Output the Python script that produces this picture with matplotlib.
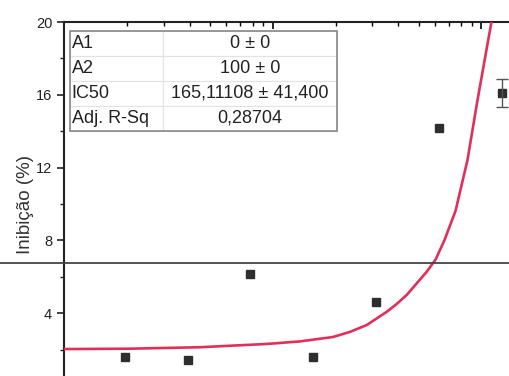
import matplotlib
matplotlib.use('Agg')
import matplotlib.pyplot as plt
from matplotlib.patches import Rectangle
from matplotlib.lines import Line2D

plt.rcParams['font.family'] = ['Liberation Sans', 'DejaVu Sans']

# measured points (concentration, % inhibition)
conc = [1.953, 3.906, 7.8125, 15.625, 31.25, 62.5, 125]
inhib = [1.61, 1.43, 6.14, 1.61, 4.60, 14.19, 16.08]
inhib_err = [0, 0, 0, 0, 0, 0, 0.77]

# fitted curve
fit_x = [1.0, 2.07, 4.47, 9.36, 13.5, 19.4, 23.4, 28.2, 35.1, 39.2, 43.8, 54.5,
         60.3, 66.5, 75.1, 85.7, 95.7, 111.6]
fit_y = [2.03, 2.05, 2.13, 2.31, 2.45, 2.69, 2.97, 3.35, 4.07, 4.5, 5.0, 6.26,
         6.95, 8.02, 9.62, 12.42, 15.71, 20.0]

# fit parameters table
par_names = ['A1', 'A2', 'IC50', 'Adj. R-Sq']
par_values = ['0 ± 0', '100 ± 0', '165,11108 ± 41,400', '0,28704']

W, H = 510, 376
fig = plt.figure(figsize=(W / 100, H / 100), dpi=100)
# axes box in pixels: left 64, right 512, top 22, bottom 386 (bottom cropped)
ax = fig.add_axes([64 / W, 1 - 386 / H, 448 / W, 364 / H])

ax.plot(fit_x, fit_y, color='#e0305a', lw=1.9, zorder=3)
ax.plot(conc, inhib, 's', ms=6, color='#2e2e2e', zorder=4)
ex = [c for c, e in zip(conc, inhib_err) if e > 0]
ey = [v for v, e in zip(inhib, inhib_err) if e > 0]
ee = [e for e in inhib_err if e > 0]
ax.errorbar(ex, ey, yerr=ee, fmt='none', ecolor='#555555',
            elinewidth=1, capsize=4, zorder=4)

ax.set_xscale('log')
ax.set_xlim(1, 140)
ax.set_ylim(0, 20)
ax.set_yticks([4, 8, 12, 16, 20])
ax.set_yticks([2, 6, 10, 14, 18], minor=True)
ax.tick_params(axis='y', which='both', direction='out', right=True,
               labelsize=10.5, colors='#222222')
ax.tick_params(axis='y', which='major', length=5, width=1.2)
ax.tick_params(axis='y', which='minor', length=3, width=1)
ax.tick_params(axis='x', which='both', direction='in', top=True, bottom=True,
               labelbottom=False)
ax.tick_params(axis='x', which='major', length=5, width=1.2)
ax.tick_params(axis='x', which='minor', length=3, width=1)
for s in ax.spines.values():
    s.set_linewidth(1.5)
    s.set_color('#222222')

ax.set_ylabel('Inibição (%)', fontsize=13.5, color='#333333', labelpad=1)

# parameter table
tbox = [6 / 448, 255.5 / 364, 267 / 448, 100 / 364]
tb = ax.table(cellText=[[n, v] for n, v in zip(par_names, par_values)],
              colWidths=[0.348, 0.652], cellLoc='center', bbox=tbox)
tb.auto_set_font_size(False)
for (r, c), cell in tb.get_celld().items():
    cell.set_edgecolor('#e2e2e2')
    cell.set_linewidth(0.8)
    cell.set_text_props(fontsize=13, color='#222222')
    if c == 0:
        cell.get_text().set_ha('left')
        cell.PAD = 0.02
ax.add_patch(Rectangle((tbox[0], tbox[1]), tbox[2], tbox[3],
                       transform=ax.transAxes, fill=False,
                       edgecolor='#888888', lw=1.2, zorder=5))

# fold line from the scanned page
fig.add_artist(Line2D([0, 1], [1 - 263 / H, 1 - 263 / H],
                      transform=fig.transFigure, color='#444444', lw=1.3))

fig.savefig('out.png', dpi=100, facecolor='white')
